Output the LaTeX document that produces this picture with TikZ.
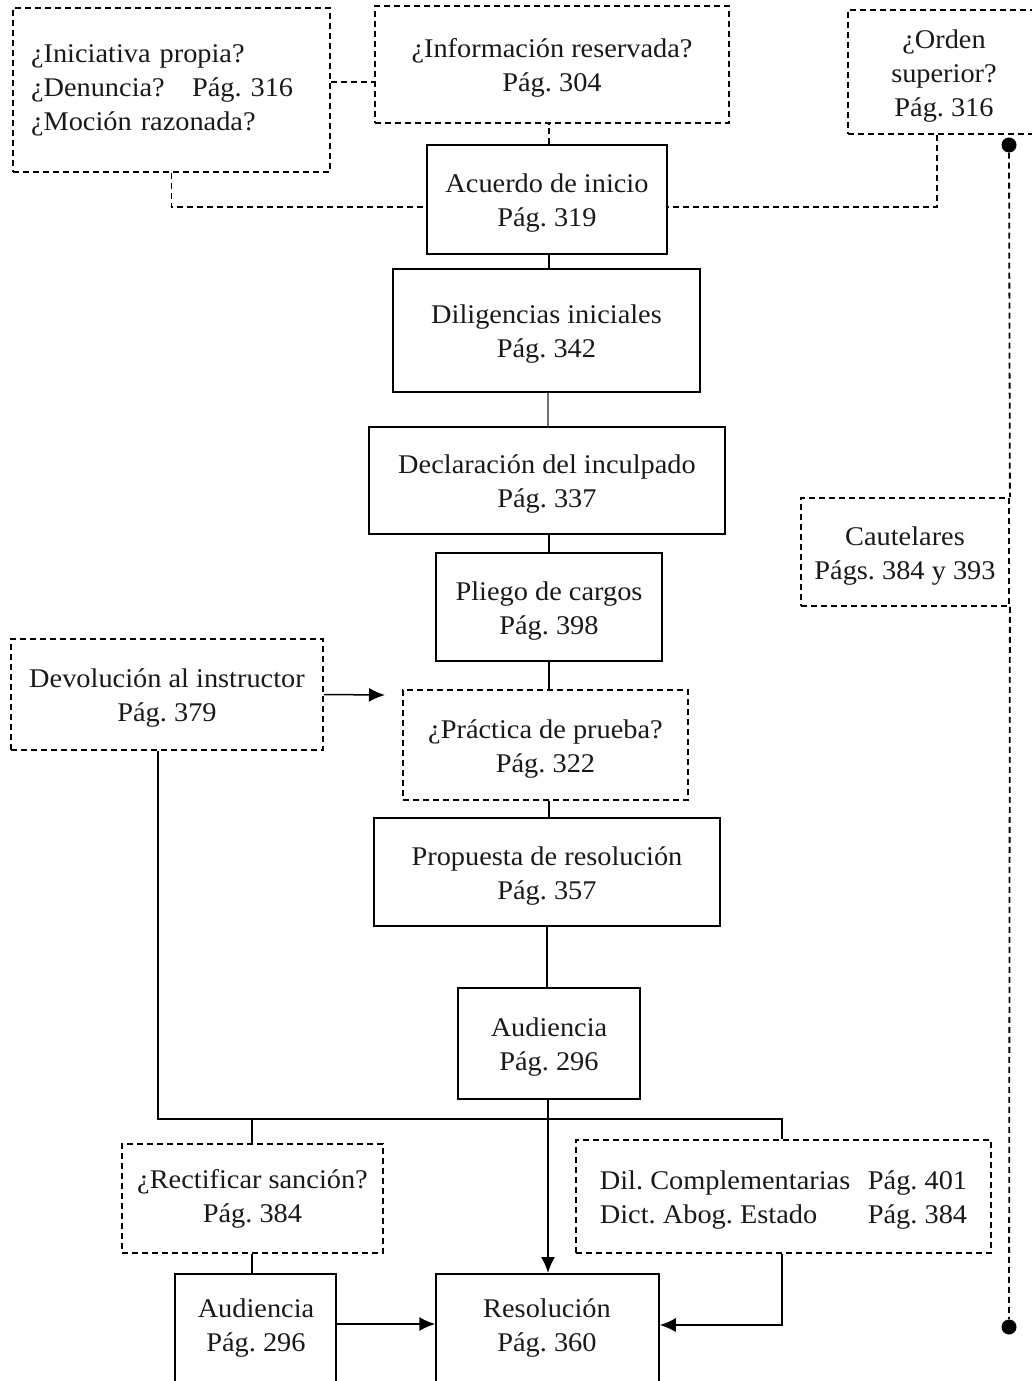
\documentclass[tikz,border=0pt]{standalone}
\usepackage{fontspec}
\setmainfont[FakeStretch=1.05]{Liberation Serif}
\usetikzlibrary{arrows.meta}
\frenchspacing
\begin{document}
\frenchspacing
\begin{tikzpicture}[x=1pt,y=-1pt,
  every node/.style={font=\fontsize{27}{34}\selectfont\frenchspacing, text=black!90, inner sep=0pt},
  lower/.style={text height=60pt, text depth=6pt},
  lowerthree/.style={text height=94pt, text depth=6pt},
  solidbox/.style={draw, line width=1.5pt, align=center},
  dashbox/.style={draw, line width=1.8pt, dash pattern=on 6pt off 4pt, align=center},
  conn/.style={line width=1.5pt},
  dconn/.style={line width=1.8pt, dash pattern=on 6pt off 4pt},
  arr/.style={conn, -{Latex[length=16pt,width=14pt]}},
  dotnode/.style={circle, fill=black, minimum size=15pt},
]
\useasboundingbox (0,0) rectangle (1032,1381);

% top row
\node[dashbox, align=left, text width=281pt, inner xsep=18pt, minimum height=164pt] (ini) at (171.5,90)
  {¿Iniciativa propia?\\\makebox[161pt][l]{¿Denuncia?}Pág. 316\\¿Moción razonada?};
\node[dashbox, lower, minimum width=354pt, minimum height=117pt] (info) at (552,64.5) {¿Información reservada?\\Pág. 304};
\node[dashbox, lowerthree, minimum width=192pt, minimum height=124pt] (orden) at (944,72) {¿Orden\\superior?\\Pág. 316};

% main column
\node[solidbox, lower, minimum width=240pt, minimum height=109pt] (acuerdo) at (547,199.5) {Acuerdo de inicio\\Pág. 319};
\node[solidbox, lower, minimum width=307pt, minimum height=123pt] (dilig) at (546.5,330.5) {Diligencias iniciales\\Pág. 342};
\node[solidbox, lower, minimum width=356pt, minimum height=107pt] (decl) at (547,480.5) {Declaración del inculpado\\Pág. 337};
\node[solidbox, lower, minimum width=226pt, minimum height=108pt] (pliego) at (549,607) {Pliego de cargos\\Pág. 398};
\node[dashbox, lower, minimum width=312pt, minimum height=111pt] (devol) at (167,694.5) {Devolución al instructor\\Pág. 379};
\node[dashbox, lower, minimum width=285pt, minimum height=110pt] (prueba) at (545.5,745) {¿Práctica de prueba?\\Pág. 322};
\node[solidbox, lower, minimum width=346pt, minimum height=108pt] (prop) at (547,872) {Propuesta de resolución\\Pág. 357};
\node[solidbox, lower, minimum width=182pt, minimum height=111pt] (aud) at (549,1043.5) {Audiencia\\Pág. 296};
\node[dashbox, lower, minimum width=208pt, minimum height=108pt] (caut) at (905,552) {Cautelares\\Págs. 384 y 393};

% lower part
\node[dashbox, minimum width=261pt, minimum height=109pt] (rect) at (252.5,1198.5) {¿Rectificar sanción?\\Pág. 384};
\node[dashbox, lower, align=left, minimum width=415pt, minimum height=113pt] (dil) at (783.5,1196.5)
  {\makebox[268pt][l]{Dil. Complementarias}Pág. 401\\\makebox[268pt][l]{Dict. Abog. Estado}Pág. 384};
\node[solidbox, minimum width=161pt, minimum height=130pt, anchor=north] (aud2) at (255.5,1273) {};
\node[align=center] (aud2txt) at (256,1328) {Audiencia\\Pág. 296};
\node[solidbox, minimum width=223pt, minimum height=130pt, anchor=north] (resol) at (547.5,1273) {};
\node[align=center] (resoltxt) at (547,1328) {Resolución\\Pág. 360};

% dots
\node[dotnode] (dottop) at (1009,145) {};
\node[dotnode] (dotbot) at (1009,1327) {};
\coordinate (hend) at (385,695);

% dashed connectors at top
\draw[dconn] (ini.east |- 0,82) -- (info.west |- 0,82);
\draw[dconn] (acuerdo.north -| 549,0) -- (info.south -| 549,0);
\draw[dconn] (ini.south) |- (acuerdo.west |- 0,207);
\draw[dconn] ([xshift=-7pt]orden.south) |- (acuerdo.east |- 0,207);
\draw[dconn] (dottop) -- (caut.north east);
\draw[dconn] (caut.south east) -- (dotbot);

% main column connectors
\draw[conn] (acuerdo.south -| 549,0) -- (dilig.north -| 549,0);
\draw[conn, black!55] (dilig.south -| 548,0) -- (decl.north -| 548,0);
\draw[conn] (decl.south -| 549,0) -- (pliego.north -| 549,0);
\draw[conn] (pliego.south -| 549,0) -- (prueba.north -| 549,0);
\draw[conn] (prueba.south -| 549,0) -- (prop.north -| 549,0);
\draw[conn] (prop.south -| 547,0) -- (aud.north -| 547,0);
\draw[arr] (devol.east) -- (hend);

% bus
\draw[conn] (devol.south -| 158,0) -- (158,1119) -- (782,1119) -- (dil.north -| 782,0);
\draw[conn] (rect.north -| 252,0) -- (252,1119);
\draw[arr] (aud.south -| 548,0) -- (resol.north -| 548,0);
\draw[conn] (rect.south -| 252,0) -- (aud2.north -| 252,0);
\draw[arr] (aud2.east |- 0,1324) -- (resol.west |- 0,1324);
\draw[arr] (dil.south -| 782,0) |- (resol.east |- 0,1325);
\end{tikzpicture}
\end{document}
